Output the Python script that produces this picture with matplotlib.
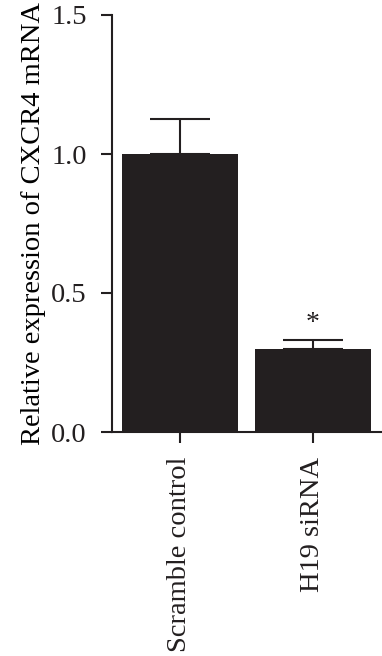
import numpy as np
import matplotlib
matplotlib.use("Agg")
import matplotlib.pyplot as plt

groups = ["Scramble control", "H19 siRNA"]
means = [1.0, 0.30]
sems = [0.125, 0.032]
marks = ["", "*"]

plt.rcParams['font.family'] = ['Liberation Serif', 'DejaVu Serif']

bar_color = '#231f20'

fig = plt.figure(figsize=(3.82, 6.56), dpi=100)
ax = fig.add_axes([112/382, 1 - 432/656, 1 - 112/382, (432 - 15)/656])

x = np.arange(len(groups))
ax.bar(x, means, width=0.87, color=bar_color, zorder=2)
ax.errorbar(x, means, yerr=[np.zeros(len(sems)), sems], fmt='none',
            ecolor=bar_color, elinewidth=1.5, capsize=21.5, capthick=1.5, zorder=1)
for xi, m, s, t in zip(x, means, sems, marks):
    if t:
        ax.text(xi, m + s + 0.015, t, ha='center', va='bottom', fontsize=20, color=bar_color)

ax.set_xlim(-0.51, 1.52)
ax.set_ylim(0, 1.5)
ax.set_yticks([0.0, 0.5, 1.0, 1.5])
ax.set_yticklabels(["0.0", "0.5", "1.0", "1.5"])
ax.set_xticks(x)
ax.set_xticklabels(groups, rotation=90)
ax.set_ylabel("Relative expression of CXCR4 mRNA", fontsize=20.5, labelpad=4)

for side in ['top', 'right']:
    ax.spines[side].set_visible(False)
for side in ['left', 'bottom']:
    ax.spines[side].set_linewidth(1.5)
    ax.spines[side].set_color(bar_color)
ax.tick_params(axis='both', direction='out', length=8, width=1.5, color=bar_color,
               labelsize=20.5, labelcolor=bar_color)
ax.tick_params(axis='y', pad=10)
ax.tick_params(axis='x', pad=10)

fig.savefig("out.png", dpi=100)
